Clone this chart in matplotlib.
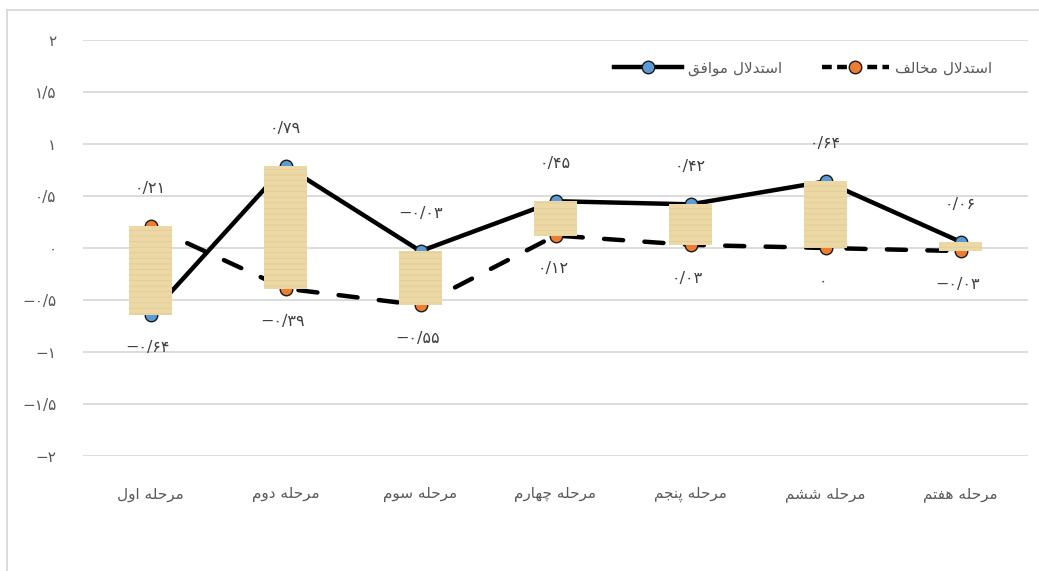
import matplotlib
matplotlib.use("Agg")
import matplotlib.pyplot as plt
from matplotlib.lines import Line2D

# ---------------- data ----------------
categories = ["مرحله اول", "مرحله دوم", "مرحله سوم", "مرحله چهارم",
              "مرحله پنجم", "مرحله ششم", "مرحله هفتم"]
agree = [-0.64, 0.79, -0.03, 0.45, 0.42, 0.64, 0.06]        # استدلال موافق
disagree = [0.21, -0.39, -0.55, 0.12, 0.03, 0.0, -0.03]     # استدلال مخالف
agree_name = "استدلال موافق"
disagree_name = "استدلال مخالف"
yticks = [-2, -1.5, -1, -0.5, 0, 0.5, 1, 1.5, 2]

# ---------------- Persian shaping (presentation forms, visual order) ----------------
FORMS = {  # isolated, final, initial, medial
    'ا': ('\uFE8D', '\uFE8E', None, None),
    'ب': ('\uFE8F', '\uFE90', '\uFE91', '\uFE92'),
    'پ': ('\uFB56', '\uFB57', '\uFB58', '\uFB59'),
    'ت': ('\uFE95', '\uFE96', '\uFE97', '\uFE98'),
    'ج': ('\uFE9D', '\uFE9E', '\uFE9F', '\uFEA0'),
    'چ': ('\uFB7A', '\uFB7B', '\uFB7C', '\uFB7D'),
    'ح': ('\uFEA1', '\uFEA2', '\uFEA3', '\uFEA4'),
    'خ': ('\uFEA5', '\uFEA6', '\uFEA7', '\uFEA8'),
    'د': ('\uFEA9', '\uFEAA', None, None),
    'ر': ('\uFEAD', '\uFEAE', None, None),
    'س': ('\uFEB1', '\uFEB2', '\uFEB3', '\uFEB4'),
    'ش': ('\uFEB5', '\uFEB6', '\uFEB7', '\uFEB8'),
    'ف': ('\uFED1', '\uFED2', '\uFED3', '\uFED4'),
    'ق': ('\uFED5', '\uFED6', '\uFED7', '\uFED8'),
    'ل': ('\uFEDD', '\uFEDE', '\uFEDF', '\uFEE0'),
    'م': ('\uFEE1', '\uFEE2', '\uFEE3', '\uFEE4'),
    'ن': ('\uFEE5', '\uFEE6', '\uFEE7', '\uFEE8'),
    'ه': ('\uFEE9', '\uFEEA', '\uFEEB', '\uFEEC'),
    'و': ('\uFEED', '\uFEEE', None, None),
}
LAMALEF = ('\uFEFB', '\uFEFC')


def shape(text):
    units = []
    i = 0
    while i < len(text):
        if text[i] == 'ل' and i + 1 < len(text) and text[i + 1] == 'ا':
            units.append('LA')
            i += 2
        else:
            units.append(text[i])
            i += 1

    def joins_left(u):
        if u == 'LA':
            return False
        f = FORMS.get(u)
        return f is not None and f[2] is not None

    def joins_right(u):
        return u == 'LA' or u in FORMS

    out = []
    for k, u in enumerate(units):
        prev = units[k - 1] if k > 0 else None
        nxt = units[k + 1] if k + 1 < len(units) else None
        conn_prev = prev is not None and joins_left(prev) and joins_right(u)
        conn_next = nxt is not None and joins_left(u) and joins_right(nxt)
        if u == 'LA':
            out.append(LAMALEF[1] if conn_prev else LAMALEF[0])
            continue
        f = FORMS.get(u)
        if f is None:
            out.append(u)
            continue
        if conn_prev and conn_next:
            out.append(f[3])
        elif conn_prev:
            out.append(f[1])
        elif conn_next:
            out.append(f[2])
        else:
            out.append(f[0])
    return ''.join(reversed(out))


PDIG = str.maketrans('0123456789', '۰۱۲۳۴۵۶۷۸۹')


def pnum(v):
    v = round(v, 2)
    if abs(v) < 1e-9:
        return '۰'
    s = ('%g' % abs(v)).replace('.', '/').translate(PDIG)
    return ('\u2212' if v < 0 else '') + s


plt.rcParams['font.family'] = ['DejaVu Sans']
plt.rcParams['hatch.color'] = '#E0C993'
plt.rcParams['hatch.linewidth'] = 0.5

fig = plt.figure(figsize=(10.39, 5.71), dpi=100)
ax = fig.add_axes([83 / 1039, 1 - 456 / 571, 945 / 1039, 416 / 571])

x = list(range(len(categories)))
grid_c = '#D9D9D9'
for v in yticks:
    ax.axhline(v, color=grid_c, lw=1.3, zorder=0)

black = '#000000'
ax.plot(x, agree, color=black, lw=3.2, solid_capstyle='round', zorder=2,
        marker='o', markersize=9, markerfacecolor='#5B9BD5', markeredgecolor='#1a1a1a',
        markeredgewidth=1.0)
ax.plot(x, disagree, color=black, lw=3.2, dashes=(4.3, 4.8), dash_capstyle='round', zorder=2,
        marker='o', markersize=9, markerfacecolor='#ED7D31', markeredgecolor='#1a1a1a',
        markeredgewidth=1.0)

# up-down bars
lows = [min(a, d) for a, d in zip(agree, disagree)]
highs = [max(a, d) for a, d in zip(agree, disagree)]
heights = [h - l for h, l in zip(highs, lows)]
ax.bar(x, heights, bottom=lows, width=0.32, color='#ECD8A5', edgecolor='none', zorder=3)
ax.bar(x, heights, bottom=lows, width=0.32, color='none', edgecolor='#E0C993',
       linewidth=0, hatch='---', zorder=3.1)

# data labels
lab_c = '#404040'
for xi, a, d in zip(x, agree, disagree):
    hi, lo = max(a, d), min(a, d)
    ax.annotate(pnum(hi), (xi, hi), xytext=(0, 27), textcoords='offset points',
                ha='center', va='center', fontsize=11.5, color=lab_c)
    ax.annotate(pnum(lo), (xi, lo), xytext=(-2, -24), textcoords='offset points',
                ha='center', va='center', fontsize=11.5, color=lab_c)

ax.set_xlim(-0.5, len(categories) - 0.5)
ax.set_ylim(-2, 2)
ax.set_yticks(yticks)
ax.set_yticklabels([pnum(v) for v in yticks])
ax.set_xticks(x)
ax.set_xticklabels([shape(c) for c in categories])
ax.tick_params(axis='both', length=0, labelsize=11, labelcolor='#595959')
ax.tick_params(axis='y', pad=19)
ax.tick_params(axis='x', pad=22)
for sp in ax.spines.values():
    sp.set_visible(False)

handles = [
    Line2D([], [], color=black, lw=3.2, marker='o', markersize=9,
           markerfacecolor='#5B9BD5', markeredgecolor='#1a1a1a'),
    Line2D([], [], color=black, lw=3.2, dashes=(2.2, 1.2), marker='o', markersize=9,
           markerfacecolor='#ED7D31', markeredgecolor='#1a1a1a'),
]
leg = ax.legend(handles, [shape(agree_name), shape(disagree_name)], ncol=2,
                loc='center right', bbox_to_anchor=((992 - 83) / 945, (456 - 68) / 416),
                frameon=False, fontsize=11, handlelength=4.4, handletextpad=0.4,
                columnspacing=2.6, borderaxespad=0, borderpad=0)
for t in leg.get_texts():
    t.set_color('#595959')

# outer chart frame (partially visible)
fig.add_artist(Line2D([7 / 1039, 1], [1 - 10 / 571, 1 - 10 / 571], color=grid_c, lw=1.3,
                      transform=fig.transFigure))
fig.add_artist(Line2D([7 / 1039, 7 / 1039], [0, 1 - 10 / 571], color=grid_c, lw=1.3,
                      transform=fig.transFigure))

fig.savefig('out.png', dpi=100)
